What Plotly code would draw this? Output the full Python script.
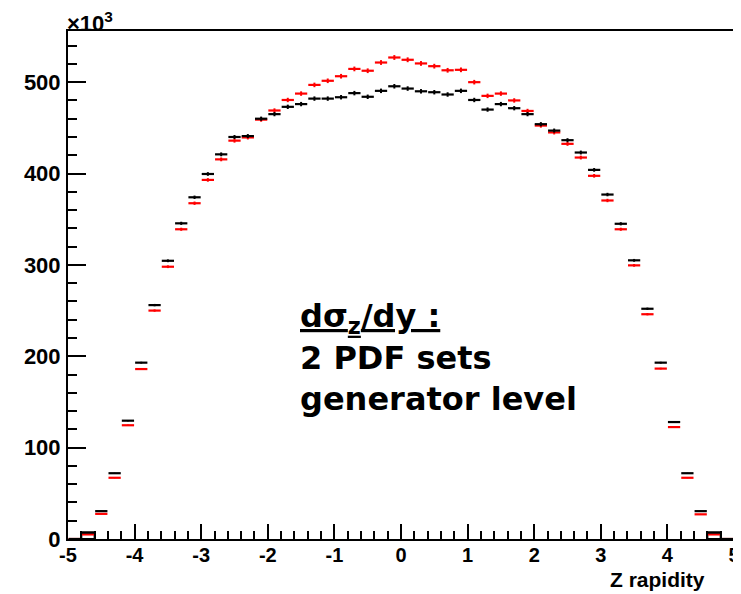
import plotly.graph_objects as go

# bin centres of Z rapidity (bin width 0.2)
rapidity = [-4.9, -4.7, -4.5, -4.3, -4.1, -3.9, -3.7, -3.5, -3.3, -3.1,
            -2.9, -2.7, -2.5, -2.3, -2.1, -1.9, -1.7, -1.5, -1.3, -1.1,
            -0.9, -0.7, -0.5, -0.3, -0.1, 0.1, 0.3, 0.5, 0.7, 0.9,
            1.1, 1.3, 1.5, 1.7, 1.9, 2.1, 2.3, 2.5, 2.7, 2.9,
            3.1, 3.3, 3.5, 3.7, 3.9, 4.1, 4.3, 4.5, 4.7, 4.9]

# dsigma/dy, in units of 10^3
pdf_black = [0, 7, 30.5, 72, 129.5, 193, 256, 304.5, 345.5, 374,
             399.5, 421, 440, 441, 460, 465, 473, 476, 482, 482,
             483.5, 488, 484, 490.5, 495.5, 493, 490, 489, 486.5, 490.5,
             480.5, 470, 476, 471.5, 465, 454, 447, 436.5, 423, 404,
             377, 345, 305, 252, 193, 128, 72, 30.5, 7, 0]

pdf_red = [0, 5, 27.5, 67, 124.5, 186, 250, 298, 339, 367.5,
           393, 415.5, 436, 439.5, 459, 469, 480.5, 487.5, 497, 501.5,
           506.5, 514.5, 512.5, 521.5, 527, 524.5, 520.5, 517.5, 513, 513.5,
           500, 485, 487.5, 480, 468.5, 452.5, 445, 432.5, 417.5, 397.5,
           370.5, 339, 299.5, 246, 186.5, 122.5, 67, 27, 5, 0]

x_ticks = [-5, -4, -3, -2, -1, 0, 1, 2, 3, 4, 5]
y_ticks = [0, 100, 200, 300, 400, 500]

fig = go.Figure()

# outlined edge bins
edge_x = [rapidity[1], rapidity[-2]]
edge_y = [pdf_black[1], pdf_black[-2]]
fig.add_trace(go.Bar(x=edge_x, y=edge_y, width=0.2,
                     marker=dict(color="rgba(0,0,0,0)", line=dict(color="black", width=2)),
                     showlegend=False, hoverinfo="skip"))


def err_trace(y, color):
    return go.Scatter(
        x=rapidity, y=y, mode="markers",
        marker=dict(size=1, color=color),
        error_x=dict(type="constant", value=0.092, width=0, thickness=2.2, color=color),
        error_y=dict(type="percent", value=0.5, width=0, thickness=2, color=color),
        showlegend=False, cliponaxis=True)


fig.add_trace(err_trace(pdf_red, "#ff0000"))
fig.add_trace(err_trace(pdf_black, "#000000"))

axis_common = dict(showline=True, linecolor="black", linewidth=2, mirror=True,
                   showgrid=False, zeroline=False, ticks="inside", automargin=False,
                   tickcolor="black", tickwidth=1.5)

fig.update_xaxes(**axis_common, range=[-5, 5], tickvals=x_ticks,
                 ticktext=[str(v) for v in x_ticks], ticklen=15,
                 tickfont=dict(family="Liberation Sans", size=20, color="black", weight="bold"),
                 ticklabelstandoff=-3,
                 minor=dict(dtick=0.2, ticks="inside", ticklen=8, tickcolor="black", tickwidth=1.5))
fig.update_yaxes(**axis_common, range=[0, 556], tickvals=y_ticks,
                 ticktext=[str(v) for v in y_ticks], ticklen=18,
                 tickfont=dict(family="Liberation Sans", size=22, color="black", weight="bold"),
                 ticklabelstandoff=1,
                 minor=dict(dtick=20, ticks="inside", ticklen=9, tickcolor="black", tickwidth=1.5))

fig.add_annotation(text="×10<sup>3</sup>", xref="paper", yref="paper",
                   x=-0.004, y=1.017, xanchor="left", yanchor="middle", showarrow=False,
                   font=dict(family="Liberation Sans", size=22, color="black", weight="bold"))

fig.add_annotation(text="Z rapidity", xref="paper", yref="paper",
                   x=0.96, y=-0.079, xanchor="right", yanchor="middle", showarrow=False,
                   font=dict(family="Liberation Sans", size=21, color="black", weight="bold"))

fig.add_annotation(text="<u>dσ<sub>z</sub>/dy :</u><br>2 PDF sets<br>generator level",
                   xref="x", yref="y", x=-1.55, y=267, xanchor="left", yanchor="top",
                   align="left", showarrow=False,
                   font=dict(family="DejaVu Sans", size=32, color="black", weight="bold"))

# page body has an 8px margin: figure is 733x586 so it fits the 741x594 window
fig.update_layout(width=733, height=586, margin=dict(l=60, r=7, t=23, b=55),
                  plot_bgcolor="white", paper_bgcolor="white", barmode="overlay",
                  showlegend=False)

fig.write_html("out.html")
